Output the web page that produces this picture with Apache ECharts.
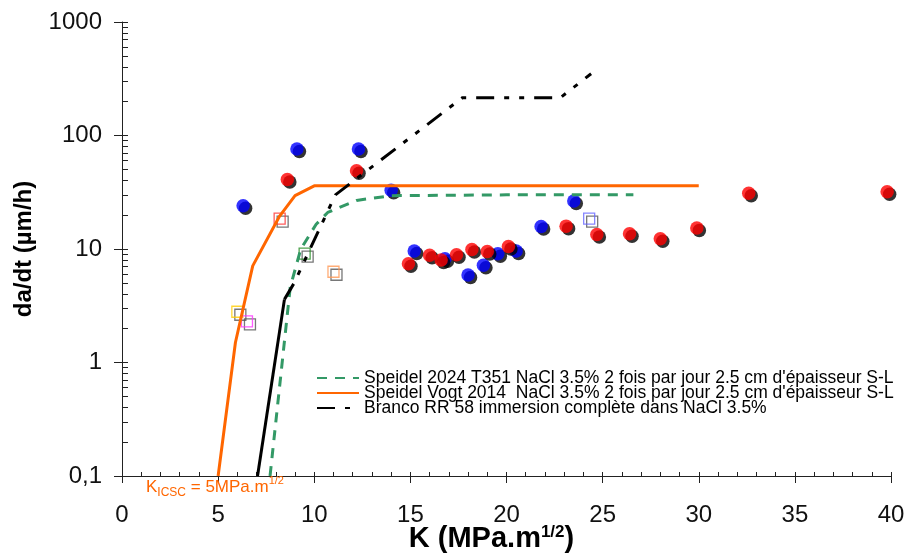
<!DOCTYPE html>
<html><head><meta charset="utf-8">
<script src="https://cdn.jsdelivr.net/npm/echarts@6/dist/echarts.min.js"></script>
<style>html,body{margin:0;padding:0;background:#fff}#c{width:909px;height:555px}</style>
</head><body><div id="c"></div>
<script>
const FONT = "'Liberation Sans', Arial, sans-serif";

// axis ticks
const xMin = 0, xMax = 40, xStep = 5;
const yTickValues = [0.1, 1, 10, 100, 1000];
const yTickLabels = ['0,1', '1', '10', '100', '1000'];
const minorMultipliers = [1, 2, 3, 4, 5, 6, 7, 8, 9];

// measured points
const blueK = [6.3, 9.1, 12.3, 14.0, 15.2, 16.8, 18.0, 18.8, 19.55, 20.5, 21.8, 23.5];
const blueV = [24, 76, 76, 33, 9.6, 8.2, 5.9, 7.2, 9.1, 9.6, 15.8, 26.5];
const redK = [8.6, 12.2, 14.9, 16.0, 16.6, 17.4, 18.2, 19.0, 20.1, 23.1, 24.7, 26.4, 28.0, 29.9, 32.6, 39.8];
const redV = [41, 49, 7.4, 8.8, 8.0, 8.9, 9.9, 9.5, 10.5, 15.9, 13.4, 13.6, 12.3, 15.3, 31, 32];
const squareK = [6.0, 6.5, 8.2, 9.5, 11.0, 24.3];
const squareV = [2.8, 2.3, 18.5, 9.1, 6.3, 18.5];
const squareColors = ['#ffcc00', '#ff33ff', '#ff3333', '#228b22', '#ff9955', '#6666ff'];

// curves
const greenK = [7.7, 8.75, 9.3, 10.1, 10.7, 12.2, 14.0, 20.0, 26.6];
const greenV = [0.1, 4.6, 10, 16.5, 21, 26.8, 29.5, 30, 30];
const orangeK = [5.0, 5.9, 6.8, 8.2, 9.0, 10.0, 30.0];
const orangeV = [0.1, 1.5, 7.1, 19.5, 29.5, 36, 36];
const blackLowK = [7.05, 8.45];
const blackLowV = [0.1, 3.6];
const blackK = [8.45, 8.95, 11.1, 17.7, 22.8, 24.4];
const blackV = [3.6, 5.0, 30, 215, 215, 350];

const names = [
  "Speidel 2024 T351 NaCl 3.5% 2 fois par jour 2.5 cm d'épaisseur S-L",
  "Speidel Vogt 2014  NaCl 3.5% 2 fois par jour 2.5 cm d'épaisseur S-L",
  "Branco RR 58 immersion complète dans NaCl 3.5%"
];

const zip = (a, b) => a.map((v, i) => [v, b[i]]);

// log positions (exponents) for the helper linear axes
const logMajor = yTickValues.map(v => Math.log10(v));
const logMinor = [];
for (let e = -1; e < 3; e++) minorMultipliers.forEach(m => logMinor.push(Math.log10(m * Math.pow(10, e))));
logMinor.push(3);
const xMinor = [];
for (let v = xMin; v <= xMax; v++) xMinor.push(v);

const chart = echarts.init(document.getElementById('c'), null, {renderer: 'canvas'});
chart.setOption({
  animation: false,
  backgroundColor: '#fff',
  grid: {left: 122, right: 18, top: 22, bottom: 79, containLabel: false, outerBoundsMode: 'none'},
  title: {
    left: 146, top: 475, padding: 0,
    text: '{k|K}{s|ICSC}{k| = 5MPa.m}{p|1/2}',
    textStyle: {
      fontWeight: 'normal',
      rich: {
        k: {fontSize: 17, fontWeight: 'normal', color: '#ff6600', fontFamily: FONT, lineHeight: 24},
        s: {fontSize: 12, fontWeight: 'normal', color: '#ff6600', fontFamily: FONT, lineHeight: 12, verticalAlign: 'bottom'},
        p: {fontSize: 11, fontWeight: 'normal', color: '#ff6600', fontFamily: FONT, lineHeight: 11, verticalAlign: 'top'}
      }
    }
  },
  legend: {
    orient: 'vertical', left: 316, top: 369, padding: 0,
    itemWidth: 42, itemHeight: 14, itemGap: -3,
    data: names,
    itemStyle: {opacity: 0},
    textStyle: {fontSize: 17.5, lineHeight: 15, color: '#000', fontFamily: FONT}
  },
  xAxis: [{
    type: 'value', position: 'bottom', min: xMin, max: xMax, interval: xStep,
    splitLine: {show: false},
    axisLine: {show: true, onZero: false, lineStyle: {color: '#222', width: 1}},
    axisTick: {show: true, inside: false, length: 7, lineStyle: {color: '#222'}},
    axisLabel: {fontSize: 24, color: '#111', fontFamily: FONT, margin: 27},
    name: '{a|K (MPa.m}{b|1/2}{a|)}',
    nameLocation: 'middle', nameGap: 48, nameMoveOverlap: false,
    nameTextStyle: {
      padding: [0, 30, 0, 0],
      rich: {
        a: {fontSize: 29, fontWeight: 'bold', color: '#000', fontFamily: FONT, lineHeight: 30},
        b: {fontSize: 17, fontWeight: 'bold', color: '#000', fontFamily: FONT, lineHeight: 16, verticalAlign: 'top'}
      }
    }
  }, {
    type: 'value', position: 'bottom', min: xMin, max: xMax, interval: xStep,
    splitLine: {show: false}, axisLine: {show: false, onZero: false}, axisLabel: {show: false},
    axisTick: {show: true, inside: true, length: 4, customValues: xMinor, lineStyle: {color: '#222'}}
  }],
  yAxis: [{
    type: 'log', logBase: 10, min: 0.1, max: 1000, position: 'left',
    splitLine: {show: false},
    axisLine: {show: true, onZero: false, lineStyle: {color: '#222', width: 1}},
    axisTick: {show: false}, axisLabel: {show: false}
  }, {
    type: 'value', position: 'left', min: -1, max: 3, interval: 1,
    splitLine: {show: false}, axisLine: {show: false, onZero: false},
    axisTick: {show: true, inside: false, length: 8, customValues: logMajor, lineStyle: {color: '#222'}},
    axisLabel: {
      fontSize: 24, color: '#111', fontFamily: FONT, margin: 20,
      formatter: v => {
        const i = logMajor.findIndex(t => Math.abs(t - v) < 1e-6);
        return i >= 0 ? yTickLabels[i] : '';
      }
    },
    name: 'da/dt (µm/h)', nameLocation: 'middle', nameGap: 86, nameRotate: 90,
    nameTextStyle: {fontSize: 24, fontWeight: 'bold', color: '#000', fontFamily: FONT}
  }, {
    type: 'value', position: 'left', min: -1, max: 3, interval: 1,
    splitLine: {show: false}, axisLine: {show: false, onZero: false}, axisLabel: {show: false},
    axisTick: {show: true, inside: true, length: 6, customValues: logMinor, lineStyle: {color: '#222'}}
  }],
  series: [
    {name: names[0], type: 'line', data: zip(greenK, greenV), symbol: 'none', silent: true,
     lineStyle: {color: '#339966', width: 3, type: [10, 8]}, itemStyle: {color: '#339966'}},
    {name: names[1], type: 'line', data: zip(orangeK, orangeV), symbol: 'none', silent: true,
     lineStyle: {color: '#ff6600', width: 3, type: 'solid'}, itemStyle: {color: '#ff6600'}},
    {name: names[2], type: 'line', data: zip(blackK, blackV), symbol: 'none', silent: true,
     lineStyle: {color: '#000', width: 3, type: [18, 10, 5, 10, 5, 10]}, itemStyle: {color: '#000'}},
    {name: 'branco-bas', type: 'line', data: zip(blackLowK, blackLowV), symbol: 'none', silent: true,
     lineStyle: {color: '#000', width: 3}, itemStyle: {color: '#000'}},
    {name: 'bleu', type: 'scatter', data: zip(blueK, blueV), symbol: 'circle', symbolSize: 13.5,
     itemStyle: {color: '#0000ff', shadowColor: '#000', shadowBlur: 0, shadowOffsetX: 2.5, shadowOffsetY: 2.5}},
    {name: 'rouge', type: 'scatter', data: zip(redK, redV), symbol: 'circle', symbolSize: 13.5,
     itemStyle: {color: '#ff0000', shadowColor: '#000', shadowBlur: 0, shadowOffsetX: 2.5, shadowOffsetY: 2.5}},
    {name: 'carres', type: 'scatter', symbol: 'rect', symbolSize: 11,
     data: squareK.map((k, i) => ({value: [k, squareV[i]], itemStyle: {borderColor: squareColors[i]}})),
     itemStyle: {color: 'rgba(255,255,255,0)', borderWidth: 1.3, shadowColor: '#555', shadowBlur: 0, shadowOffsetX: 3, shadowOffsetY: 3}}
  ]
});
</script></body></html>
